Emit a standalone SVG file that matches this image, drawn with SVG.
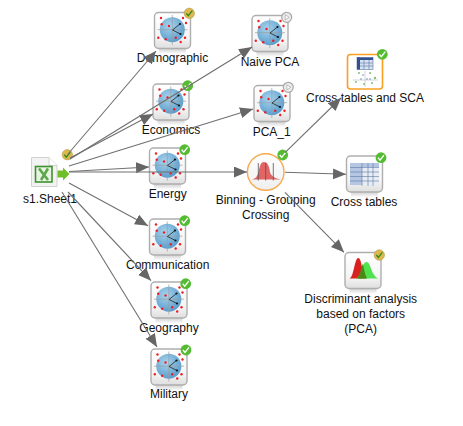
<svg xmlns="http://www.w3.org/2000/svg" width="463" height="426" viewBox="0 0 463 426">
<style>
text{font-family:"Liberation Sans",Arial,sans-serif;font-size:12px;fill:#111;text-anchor:middle}
.c{fill:none;stroke:#707070;stroke-width:1.100;marker-end:url(#arr)}
.box{fill:url(#boxg);stroke:#aeaeae;stroke-width:1.400}
.d{fill:#ee1c25}
.ax{stroke:#9a9fa4;stroke-width:.7;fill:none}
.v{stroke:#222;stroke-width:.8;fill:none}
.ck{fill:none;stroke:#fff;stroke-width:1.300}
.ckg{fill:none;stroke:#2f8a1e;stroke-width:1.300}
.grid{stroke:#5a7ba6;stroke-width:.6;fill:none}
</style>
<defs>
<marker id="arr" markerUnits="userSpaceOnUse" markerWidth="14" markerHeight="12" refX="13" refY="5.500" orient="auto"><path d="M0 0L13 5.500L0 11Z" fill="#666"/></marker>
<linearGradient id="boxg" x1="0" y1="0" x2="0" y2="1"><stop offset="0" stop-color="#fff"/><stop offset=".7" stop-color="#f4f4f4"/><stop offset="1" stop-color="#dedede"/></linearGradient>
<linearGradient id="sh" x1="0" y1="0" x2="0" y2="1"><stop offset="0" stop-color="#ccc"/><stop offset="1" stop-color="#fff"/></linearGradient>
<radialGradient id="ball" cx=".4" cy=".35" r=".75"><stop offset="0" stop-color="#a9d3ec"/><stop offset="1" stop-color="#4f96c8"/></radialGradient>
<linearGradient id="disc" x1="0" y1="0" x2="0" y2="1"><stop offset="0" stop-color="#fff"/><stop offset="1" stop-color="#efefef"/></linearGradient>
<g id="frame"><rect x="5" y="36" width="27" height="6" fill="url(#sh)"/><rect x=".5" y=".5" width="36" height="36" rx="4" class="box"/></g>
<g id="pca"><use href="#frame"/><circle cx="18.300" cy="17.700" r="12.500" fill="url(#ball)"/><path class="ax" d="M18.300 3V33M3.500 17.700H33.500"/>
<g class="d"><circle cx="7" cy="6" r="1.200"/><circle cx="29" cy="6" r="1.200"/><circle cx="32" cy="11" r="1.200"/><circle cx="7.700" cy="12.300" r="1.200"/><circle cx="15" cy="14" r="1.200"/><circle cx="4.300" cy="25.700" r="1.200"/><circle cx="11.700" cy="27.300" r="1.200"/><circle cx="21.700" cy="25.700" r="1.200"/><circle cx="31" cy="25.700" r="1.200"/><circle cx="26.700" cy="30" r="1.200"/></g>
<path class="v" d="M18.500 18L26 12M18.500 18L26.500 22"/><circle cx="26" cy="12" r="1.100" fill="#111"/><circle cx="26.500" cy="22" r="1.100" fill="#111"/></g>
<g id="ok"><circle r="5.400" fill="#55bb33"/><path class="ck" d="M-3 0L-1 2.400L3 -2.600"/></g>
<g id="warn"><circle r="5.200" fill="#dcb84e" stroke="#a89040" stroke-width=".5"/><path class="ckg" d="M-3 0L-1 2.400L3 -2.600"/></g>
<g id="idle"><circle r="5" fill="#ececec" stroke="#a9a9a9" stroke-width="1.200"/><path d="M-1.500 -2.500L2.500 0L-1.500 2.500Z" fill="#fff" stroke="#999" stroke-width=".6"/></g>
</defs>
<rect width="463" height="426" fill="#fff"/>
<g id="s1"><path d="M31.500 157.500H49L57 165.500V186.500H31.500Z" fill="#f3f3f3" stroke="#d2d2d2"/><path d="M49 157.500V165.500H57" fill="#fff" stroke="#d2d2d2"/>
<rect x="35.500" y="166.500" width="16.500" height="15.500" fill="#e8f3e2" stroke="#3c9130" stroke-width="1.600"/><path d="M39 168.500L48 180M48 168.500L41 180" stroke="#5aa84a" stroke-width="2.600" fill="none"/>
<path d="M57.500 170.500H63V167.500L69.500 174L63 180.500V177.500H57.500Z" fill="#6fbf2a"/><use href="#warn" x="67.300" y="154.700"/><text x="50" y="202.500">s1.Sheet1</text></g>
<g id="demographic"><use href="#pca" x="154" y="12"/><use href="#warn" x="189.300" y="13.300"/><text x="172.500" y="62">Demographic</text></g>
<g id="economics"><use href="#pca" x="152.500" y="83.500"/><use href="#ok" x="187.700" y="85.700"/><text x="171" y="134">Economics</text></g>
<g id="energy"><use href="#pca" x="149" y="147.500"/><use href="#ok" x="184.700" y="149.700"/><text x="167.700" y="198">Energy</text></g>
<g id="communication"><use href="#pca" x="149" y="218.500"/><use href="#ok" x="184.700" y="220.700"/><text x="167.700" y="269">Communication</text></g>
<g id="geography"><use href="#pca" x="150.500" y="281.500"/><use href="#ok" x="185.700" y="283.700"/><text x="169" y="332">Geography</text></g>
<g id="military"><use href="#pca" x="150.500" y="348.500"/><use href="#ok" x="186" y="350"/><text x="169" y="398">Military</text></g>
<g id="naive-pca"><use href="#pca" x="251.500" y="15"/><use href="#idle" x="286.700" y="17.300"/><text x="270" y="66">Naive PCA</text></g>
<g id="pca-1"><use href="#pca" x="253.500" y="85"/><use href="#idle" x="288.300" y="87.300"/><text x="271.700" y="136">PCA_1</text></g>
<g id="binning"><circle cx="265.700" cy="172" r="18.300" fill="url(#disc)" stroke="#f9a94b" stroke-width="1.400"/>
<path d="M252 179.500C256 178.500 257.500 176 258.500 172C260 165 261 162 264 162C267 162 269 165 270 172C271 176 275 178.500 281 179.500Z" fill="#e26464"/><path d="M258.300 163V180.500M265.700 163V180.500M273.300 163V180.500" stroke="#555" stroke-width=".8" fill="none"/>
<use href="#ok" x="282.700" y="155"/><text x="265.700" y="204">Binning - Grouping</text><text x="265.700" y="219">Crossing</text></g>
<g id="cross-sca"><rect x="347.500" y="54.500" width="35" height="34.500" rx="3" fill="#fff" stroke="#f9a01e" stroke-width="1.600"/>
<rect x="357" y="57.500" width="16" height="12" fill="#d8e2f2" stroke="#5a7ba6" stroke-width=".6"/><rect x="357" y="57.500" width="16" height="2.500" fill="#34508c"/><rect x="357" y="57.500" width="3" height="12" fill="#34508c"/><path class="grid" d="M364 60V69.500M369 60V69.500M360 63H373M360 66H373"/>
<path d="M353 80H378M365 71V87" stroke="#aaa" stroke-width=".5"/><g fill="#7cc36b"><circle cx="359" cy="73" r="1"/><circle cx="370" cy="73" r="1"/><circle cx="375" cy="78" r="1.200"/><circle cx="356" cy="82" r="1"/><circle cx="364" cy="84" r="1"/><circle cx="372" cy="83" r="1"/></g>
<g fill="#6c88b5"><circle cx="363" cy="75" r=".8"/><circle cx="367" cy="79" r=".8"/><circle cx="361" cy="79" r=".8"/><circle cx="370" cy="79" r=".8"/></g>
<use href="#ok" x="382.300" y="54.300"/><text x="365" y="102">Cross tables and SCA</text></g>
<g id="cross-tables"><use href="#frame" x="346" y="155.500"/><rect x="350" y="163" width="29" height="22" fill="#e8ecf3"/><rect x="350" y="163" width="12" height="22" fill="#b5c6e2"/><rect x="350" y="163" width="29" height="4" fill="#b5c6e2"/><path class="grid" d="M362 163V186M368 163V186M373 163V186M350 167.500H379M350 172H379M350 176.500H379M350 181H379"/>
<use href="#ok" x="381" y="157.700"/><text x="364" y="206">Cross tables</text></g>
<g id="discriminant"><use href="#frame" x="344.500" y="252"/><path d="M349.500 278.500C354 277 354.500 258 358.300 258C362 258 362 275 366 278.500Z" fill="#d8201f"/><path d="M356 278.500C362 276 362 262 366.500 262C371 262 371 276 378.500 278.500Z" fill="#33dd33" fill-opacity=".85"/><path d="M357.500 278.500C360.500 274 361.500 266 363 263.500C364 269 365 275 367 278.500Z" fill="#4b8a12"/>
<use href="#warn" x="379.300" y="255"/><text x="360.700" y="303">Discriminant analysis</text><text x="360.700" y="318">based on factors</text><text x="360.700" y="333">(PCA)</text></g>
<g id="connectors">
<path class="c" d="M68 154L156 51"/>
<path class="c" d="M70 158L153 114"/>
<path class="c" d="M70 159L252 47"/>
<path class="c" d="M69 166L253 109"/>
<path class="c" d="M69 171.500L149 167"/>
<path class="c" d="M69 172L247 172"/>
<path class="c" d="M69 183L148 225.700"/>
<path class="c" d="M68 192L151 280.700"/>
<path class="c" d="M62 192L157 347"/>
<path class="c" d="M285 152.700L341 98"/>
<path class="c" d="M285 172.300L346 174.300"/>
<path class="c" d="M285 192.300L344 252.300"/>
</g>
</svg>
